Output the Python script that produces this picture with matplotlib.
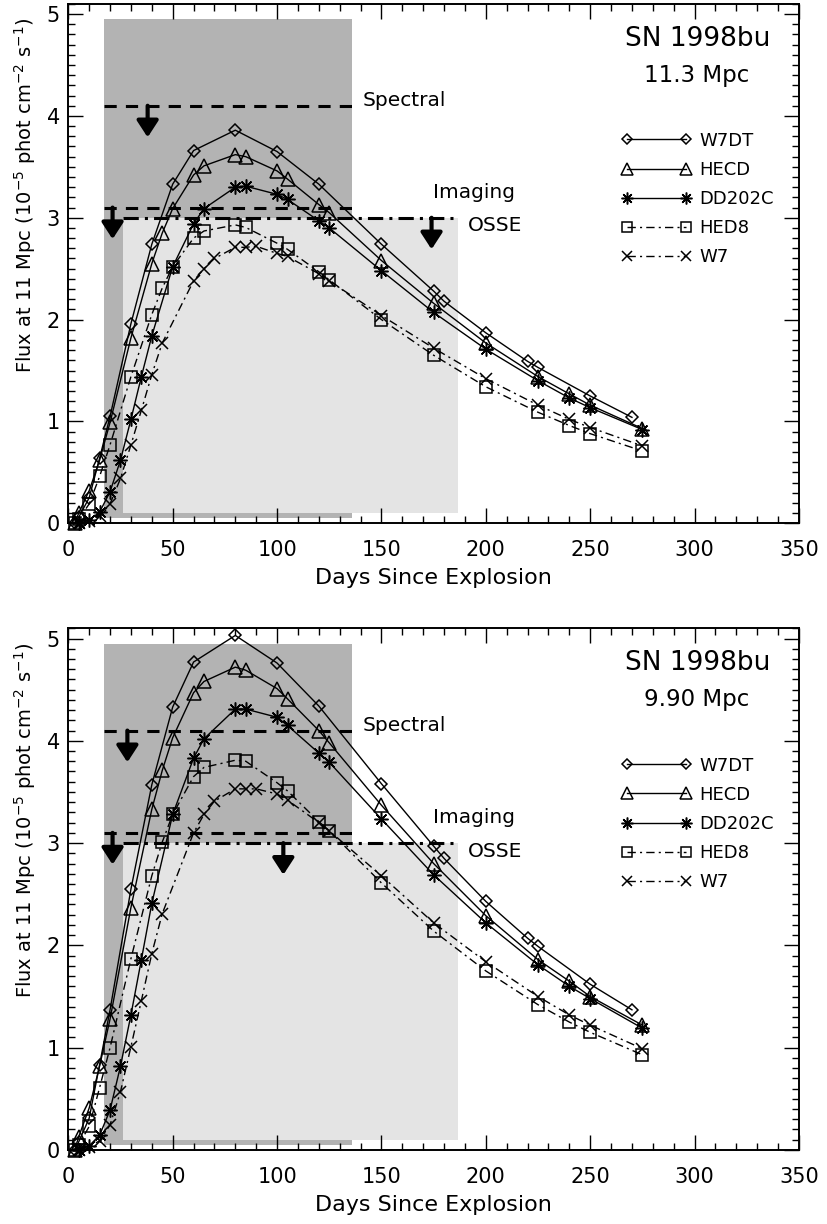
import matplotlib
matplotlib.use("Agg")
import matplotlib.pyplot as plt
from matplotlib.lines import Line2D
from matplotlib.patches import Rectangle
from matplotlib.ticker import MultipleLocator

plt.rcParams['font.family'] = ['DejaVu Sans']

# ---------------- data: top panel (11.3 Mpc) ----------------
top_w7dt_days = [3, 5, 10, 15, 20, 30, 40, 50, 60, 80, 100, 120, 150, 175, 180, 200, 220, 225, 250, 270]
top_w7dt_flux = [0.0, 0.06, 0.25, 0.64, 1.05, 1.96, 2.74, 3.33, 3.66, 3.86, 3.65, 3.33, 2.74, 2.28, 2.18, 1.87, 1.59, 1.53, 1.25, 1.04]

top_hecd_days = [3, 5, 10, 15, 20, 30, 40, 45, 50, 60, 65, 80, 85, 100, 105, 120, 125, 150, 175, 200, 225, 240, 250, 275]
top_hecd_flux = [0.0, 0.10, 0.32, 0.62, 0.99, 1.82, 2.55, 2.85, 3.09, 3.42, 3.51, 3.62, 3.60, 3.46, 3.38, 3.13, 3.05, 2.58, 2.16, 1.77, 1.44, 1.27, 1.16, 0.93]

top_dd202c_days = [5, 10, 15, 20, 25, 30, 35, 40, 50, 60, 65, 80, 85, 100, 105, 120, 125, 150, 175, 200, 225, 240, 250, 275]
top_dd202c_flux = [0.0, 0.03, 0.11, 0.31, 0.62, 1.02, 1.44, 1.84, 2.52, 2.94, 3.09, 3.30, 3.31, 3.23, 3.18, 2.97, 2.90, 2.48, 2.07, 1.71, 1.40, 1.23, 1.135, 0.92]

top_hed8_days = [3, 5, 10, 15, 20, 30, 40, 45, 50, 60, 65, 80, 85, 100, 105, 120, 125, 150, 175, 200, 225, 240, 250, 275]
top_hed8_flux = [0.0, 0.04, 0.19, 0.46, 0.77, 1.44, 2.05, 2.31, 2.52, 2.80, 2.87, 2.93, 2.905, 2.75, 2.69, 2.47, 2.39, 2.00, 1.65, 1.34, 1.09, 0.96, 0.88, 0.71]

top_w7_days = [5, 10, 15, 20, 25, 30, 35, 40, 45, 60, 65, 70, 80, 85, 90, 100, 105, 120, 125, 150, 175, 200, 225, 240, 250, 275]
top_w7_flux = [0.0, 0.02, 0.07, 0.19, 0.44, 0.77, 1.11, 1.46, 1.77, 2.38, 2.50, 2.60, 2.71, 2.71, 2.72, 2.65, 2.62, 2.45, 2.38, 2.04, 1.72, 1.42, 1.16, 1.02, 0.94, 0.76]

# ---------------- data: bottom panel (9.90 Mpc) ----------------
bot_w7dt_days = [3, 5, 10, 15, 20, 30, 40, 50, 60, 80, 100, 120, 150, 175, 180, 200, 220, 225, 250, 270]
bot_w7dt_flux = [0.0, 0.08, 0.31, 0.835, 1.37, 2.55, 3.57, 4.33, 4.77, 5.03, 4.76, 4.34, 3.58, 2.97, 2.85, 2.43, 2.07, 1.99, 1.62, 1.37]

bot_hecd_days = [3, 5, 10, 15, 20, 30, 40, 45, 50, 60, 65, 80, 85, 100, 105, 120, 125, 150, 175, 200, 225, 240, 250, 275]
bot_hecd_flux = [0.0, 0.13, 0.41, 0.82, 1.28, 2.37, 3.33, 3.71, 4.03, 4.47, 4.58, 4.72, 4.69, 4.51, 4.41, 4.10, 3.98, 3.37, 2.80, 2.29, 1.86, 1.65, 1.50, 1.22]

bot_dd202c_days = [5, 10, 15, 20, 25, 30, 35, 40, 50, 60, 65, 80, 85, 100, 105, 120, 125, 150, 175, 200, 225, 240, 250, 275]
bot_dd202c_flux = [0.0, 0.04, 0.145, 0.39, 0.82, 1.32, 1.86, 2.41, 3.28, 3.83, 4.02, 4.31, 4.31, 4.23, 4.15, 3.88, 3.79, 3.235, 2.69, 2.22, 1.81, 1.60, 1.48, 1.19]

bot_hed8_days = [3, 5, 10, 15, 20, 30, 40, 45, 50, 60, 65, 80, 85, 100, 105, 120, 125, 150, 175, 200, 225, 240, 250, 275]
bot_hed8_flux = [0.0, 0.05, 0.23, 0.61, 1.00, 1.87, 2.68, 3.01, 3.28, 3.65, 3.74, 3.81, 3.80, 3.59, 3.51, 3.21, 3.12, 2.61, 2.14, 1.75, 1.42, 1.25, 1.15, 0.93]

bot_w7_days = [5, 10, 15, 20, 25, 30, 35, 40, 45, 60, 65, 70, 80, 85, 90, 100, 105, 120, 125, 150, 175, 200, 225, 240, 250, 275]
bot_w7_flux = [0.0, 0.03, 0.09, 0.245, 0.57, 1.01, 1.46, 1.92, 2.31, 3.10, 3.28, 3.41, 3.53, 3.53, 3.53, 3.48, 3.42, 3.20, 3.12, 2.68, 2.22, 1.84, 1.50, 1.32, 1.22, 0.99]

model_names = ['W7DT', 'HECD', 'DD202C', 'HED8', 'W7']

# limits / regions (days, flux)
spectral_limit = 4.1
imaging_limit = 3.1
osse_limit = 3.0
spectral_box = (17.3, 136.0, 0.05, 4.95)   # x0, x1, y0, y1 (dark gray)
osse_box = (26.4, 186.5, 0.10, 3.0)        # light gray
arrow_len = 0.31

panels = [
    dict(series=[(top_w7dt_days, top_w7dt_flux), (top_hecd_days, top_hecd_flux),
                 (top_dd202c_days, top_dd202c_flux), (top_hed8_days, top_hed8_flux),
                 (top_w7_days, top_w7_flux)],
         dist='11.3 Mpc', arrows=(38.0, 21.2, 174.0)),
    dict(series=[(bot_w7dt_days, bot_w7dt_flux), (bot_hecd_days, bot_hecd_flux),
                 (bot_dd202c_days, bot_dd202c_flux), (bot_hed8_days, bot_hed8_flux),
                 (bot_w7_days, bot_w7_flux)],
         dist='9.90 Mpc', arrows=(28.3, 21.2, 103.0)),
]

styles = [
    dict(marker='D', ms=6.5, ls='-'),
    dict(marker='^', ms=10, ls='-'),
    dict(marker=(8, 2, 0), ms=10, ls='-'),
    dict(marker='s', ms=9, ls=(0, (6, 3, 1.5, 3))),
    dict(marker='x', ms=9, ls=(0, (6, 3, 1.5, 3))),
]

fig = plt.figure(figsize=(8.27, 12.24), dpi=100)
axes_rects = [[0.0826, 0.5725, 0.8835, 0.4243], [0.0826, 0.0605, 0.8835, 0.4262]]

dark = '#b3b3b3'
light = '#e4e4e4'

for rect, p in zip(axes_rects, panels):
    ax = fig.add_axes(rect)
    ax.set_xlim(0, 350)
    ax.set_ylim(0, 5.1)

    x0, x1, y0, y1 = spectral_box
    ax.add_patch(Rectangle((x0, y0), x1 - x0, y1 - y0, facecolor=dark, edgecolor='none', zorder=0))
    lx0, lx1, ly0, ly1 = osse_box
    ax.add_patch(Rectangle((lx0, ly0), lx1 - lx0, ly1 - ly0, facecolor=light, edgecolor='none', zorder=0.5))

    # curves
    for (d, f), st, name in zip(p['series'], styles, model_names):
        ax.plot(d, f, color='black', lw=1.0, ls=st['ls'], marker=st['marker'], ms=st['ms'],
                mfc='none', mec='black', mew=1.1, clip_on=False, zorder=3, label=name)

    # limit lines
    ax.plot([x0, x1], [spectral_limit, spectral_limit], color='black', lw=2.2, ls=(0, (4, 3)), zorder=2)
    ax.plot([x0, x1], [imaging_limit, imaging_limit], color='black', lw=2.2, ls=(0, (4, 3)), zorder=2)
    ax.plot([lx0, lx1], [osse_limit, osse_limit], color='black', lw=2.2, ls=(0, (5, 2, 1, 2)), zorder=2)

    a_spec, a_img, a_osse = p['arrows']
    for xa, ytop in [(a_spec, spectral_limit), (a_img, imaging_limit), (a_osse, osse_limit)]:
        ax.annotate('', xy=(xa, ytop - arrow_len), xytext=(xa, ytop),
                    arrowprops=dict(arrowstyle='-|>,head_length=1.0,head_width=0.65',
                                    color='black', lw=3.0, shrinkA=0, shrinkB=0), zorder=4)

    ax.text(141, spectral_limit + 0.05, 'Spectral', fontsize=14.5, va='center', ha='left')
    ax.text(174.5, 3.25, 'Imaging', fontsize=14.5, va='center', ha='left')
    ax.text(191.5, 2.92, 'OSSE', fontsize=14.5, va='center', ha='left')

    ax.text(336.5, 4.76, 'SN 1998bu', fontsize=19, va='center', ha='right')
    ax.text(301, 4.40, p['dist'], fontsize=16.5, va='center', ha='center')

    handles = [Line2D([], [], color='black', lw=1.0, ls=st['ls'], marker=st['marker'],
                      ms=st['ms'] * 0.85, mfc='none', mec='black', mew=1.1) for st in styles]
    ax.legend(handles, model_names, loc='upper left', bbox_to_anchor=(0.757, 0.754),
              frameon=False, numpoints=2, handlelength=3.9, handletextpad=0.4,
              labelspacing=0.62, fontsize=13, borderpad=0, borderaxespad=0)

    ax.xaxis.set_major_locator(MultipleLocator(50))
    ax.xaxis.set_minor_locator(MultipleLocator(10))
    ax.yaxis.set_major_locator(MultipleLocator(1))
    ax.yaxis.set_minor_locator(MultipleLocator(0.1))
    ax.tick_params(which='both', direction='in', top=True, right=True, width=1.0)
    ax.tick_params(which='major', length=11)
    ax.tick_params(which='minor', length=5)
    ax.tick_params(axis='x', which='major', pad=12, labelsize=15)
    ax.tick_params(axis='y', which='major', pad=6, labelsize=15)
    for s in ax.spines.values():
        s.set_linewidth(1.4)

    ax.set_xlabel('Days Since Explosion', fontsize=16, labelpad=6)
    ax.set_ylabel('Flux at 11 Mpc (10$^{-5}$ phot cm$^{-2}$ s$^{-1}$)', fontsize=14)
    ax.yaxis.set_label_coords(-0.042, 0.632)

fig.savefig('out.png', dpi=100)
